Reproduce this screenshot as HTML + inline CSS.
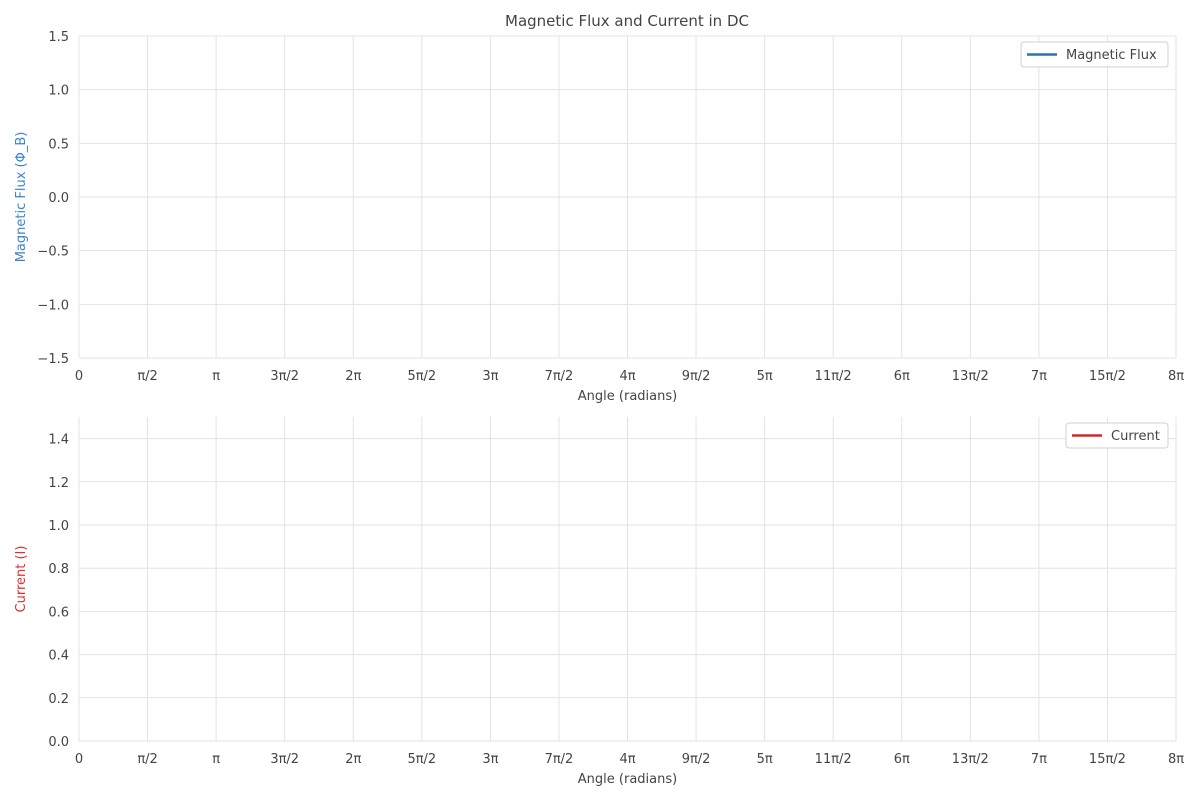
<!DOCTYPE html>
<html><head><meta charset="utf-8"><style>
body{margin:0;background:#fff;}
svg text{font-family:"DejaVu Sans","Liberation Sans",sans-serif;}
</style></head><body>
<svg id="chart" width="1200" height="800" xmlns="http://www.w3.org/2000/svg"></svg>
<script>
const xTickLabels=["0","π/2","π","3π/2","2π","5π/2","3π","7π/2","4π","9π/2","5π","11π/2","6π","13π/2","7π","15π/2","8π"];
const fluxTicks=[1.5,1.0,0.5,0.0,-0.5,-1.0,-1.5];
const fluxTickLabels=["1.5","1.0","0.5","0.0","−0.5","−1.0","−1.5"];
const currentTicks=[0.0,0.2,0.4,0.6,0.8,1.0,1.2,1.4];
const currentTickLabels=["0.0","0.2","0.4","0.6","0.8","1.0","1.2","1.4"];
// series (nothing visible in reference)
const fluxAngles=[];
const fluxValues=[];
const currentAngles=[];
const currentValues=[];

const svg=document.getElementById('chart');
const NS='http://www.w3.org/2000/svg';
function mk(tag,attrs,parent,text){const e=document.createElementNS(NS,tag);for(const k in attrs)e.setAttribute(k,attrs[k]);if(text!==undefined)e.textContent=text;(parent||svg).appendChild(e);return e;}
const X0=79,X1=1176,XMAX=8*Math.PI;
const xs=v=>X0+(X1-X0)*v/XMAX;

function panel(name,top,bottom,ymin,ymax,ticks,labels,ylabel,ycolor,angles,vals,color,legend,legW){
  const g=mk('g',{},svg);
  
  const ys=v=>bottom-(bottom-top)*(v-ymin)/(ymax-ymin);
  xTickLabels.forEach((l,i)=>{
    const x=xs(i*Math.PI/2);
    const ln=mk('line',{x1:x,x2:x,y1:top,y2:bottom,stroke:'#e3e3e3','stroke-width':1},g);
    
    const t=mk('text',{x:x,y:bottom+22,'text-anchor':'middle','font-size':13,fill:'#444'},g,l);
    
  });
  ticks.forEach((v,i)=>{
    const y=ys(v);
    const ln=mk('line',{x1:X0,x2:X1,y1:y,y2:y,stroke:'#e3e3e3','stroke-width':1},g);
    
    const t=mk('text',{x:X0-10,y:y+5,'text-anchor':'end','font-size':13,fill:'#444'},g,labels[i]);
    
  });
  const xt=mk('text',{x:(X0+X1)/2,y:bottom+42,'text-anchor':'middle','font-size':13,fill:'#444'},g,'Angle (radians)');
  
  const cy=(top+bottom)/2;
  const yt=mk('text',{x:25,y:cy,'text-anchor':'middle','font-size':13,fill:ycolor,transform:`rotate(-90 25 ${cy})`},g,ylabel);
  
  if(vals.length){
    const p=mk('polyline',{points:vals.map((v,i)=>xs(angles[i])+','+ys(v)).join(' '),fill:'none',stroke:color,'stroke-width':2},g);
    
  }
  const lx=X1-8-legW, ly=top+6;
  const lg=mk('g',{},g);
  
  mk('rect',{x:lx,y:ly,width:legW,height:25,rx:3,fill:'#fff',stroke:'#d0d0d0'},lg);
  mk('line',{x1:lx+6,x2:lx+36,y1:ly+12.5,y2:ly+12.5,stroke:color,'stroke-width':2.5},lg);
  mk('text',{x:lx+45,y:ly+17,'font-size':13,fill:'#444'},lg,legend);
}
panel('flux',36,358,-1.5,1.5,fluxTicks,fluxTickLabels,'Magnetic Flux (Φ_B)','#3a86c8',fluxAngles,fluxValues,'#2a72b0','Magnetic Flux',147);
panel('current',417,741,0,1.5,currentTicks,currentTickLabels,'Current (I)','#e03030',currentAngles,currentValues,'#d62728','Current',102);
const title=mk('text',{x:627,y:26,'text-anchor':'middle','font-size':15,fill:'#444'},svg,'Magnetic Flux and Current in DC');

</script>
</body></html>
